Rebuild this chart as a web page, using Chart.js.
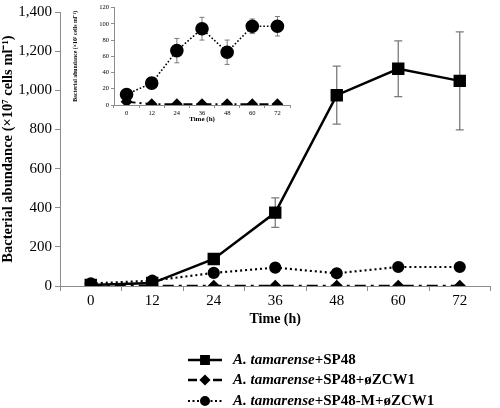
<!DOCTYPE html>
<html lang="en">
<head>
<meta charset="UTF-8">
<title>Bacterial abundance</title>
<script src="https://cdn.jsdelivr.net/npm/chart.js"></script>
<style>
  body { margin: 0; background: #fff; }
  #wrap { position: relative; width: 500px; height: 408px; }
  #mainChart { position: absolute; left: 0; top: 0; }
  #insetChart { position: absolute; left: 72px; top: 0; }
</style>
</head>
<body>
<div id="wrap">
  <canvas id="mainChart" width="500" height="408"></canvas>
  <canvas id="insetChart" width="228" height="125"></canvas>
</div>
<script>
// data
const hours = ['0', '12', '24', '36', '48', '60', '72'];
const sp48 = [5, 15, 138, 375, 975, 1110, 1048];
const sp48Err = [0, 0, 0, 75, 148, 142, 250];
const sp48Phage = [4, 1, 1, 1, 1, 1, 1];
const sp48mPhage = [13, 27, 67, 94, 65, 97, 97];
const sp48mPhageErr = [0, 0, 15, 14, 15, 9, 12];
const mainYTicks = [0, 200, 400, 600, 800, 1000, 1200, 1400];
const insetYTicks = [0, 20, 40, 60, 80, 100, 120];
const speciesName = 'A. tamarense';
const treatments = ['+SP48', '+SP48+øZCW1', '+SP48-M+øZCW1'];
const yTitle = 'Bacterial abundance (×10⁷ cells ml⁻¹)';
const xTitle = 'Time (h)';

const serif = "'Liberation Serif', 'Times New Roman', serif";
const axisGrey = '#8c8c8c';

// error bars drawn under the markers
const errorBars = {
  id: 'errorBars',
  beforeDatasetsDraw(chart) {
    const ctx = chart.ctx;
    const y = chart.scales.y;
    chart.data.datasets.forEach((ds, i) => {
      if (!ds.errors) return;
      const meta = chart.getDatasetMeta(i);
      ctx.save();
      ctx.strokeStyle = '#7a7a7a';
      ctx.lineWidth = ds.errWidth || 1.2;
      meta.data.forEach((pt, j) => {
        const e = ds.errors[j];
        if (!e) return;
        const v = ds.data[j];
        const top = y.getPixelForValue(v + e);
        const bot = y.getPixelForValue(v - e);
        const cap = ds.errCap || 4;
        ctx.beginPath();
        ctx.moveTo(pt.x, top); ctx.lineTo(pt.x, bot);
        ctx.moveTo(pt.x - cap, top); ctx.lineTo(pt.x + cap, top);
        ctx.moveTo(pt.x - cap, bot); ctx.lineTo(pt.x + cap, bot);
        ctx.stroke();
      });
      ctx.restore();
    });
  }
};

// legend under the main chart, species name in italics
const bottomLegend = {
  id: 'bottomLegend',
  afterDraw(chart) {
    const ctx = chart.ctx;
    const rowsY = [360, 380, 401];
    const styles = [
      { point: 'rect', r: 5.2, dash: 'solid', width: 2.5 },
      { point: 'rectRot', r: 3.8, dash: 'dash', width: 2.5 },
      { point: 'circle', r: 4, dash: 'dot', width: 2 }
    ];
    ctx.save();
    styles.forEach((s, i) => {
      const yy = rowsY[i];
      ctx.strokeStyle = '#000';
      ctx.fillStyle = '#000';
      ctx.lineWidth = s.width;
      ctx.beginPath();
      if (s.dash === 'solid') {
        ctx.moveTo(188, yy); ctx.lineTo(222, yy);
      } else if (s.dash === 'dash') {
        ctx.moveTo(188, yy); ctx.lineTo(197, yy);
        ctx.moveTo(213, yy); ctx.lineTo(222, yy);
      } else {
        ctx.setLineDash([2, 2.5]);
        ctx.moveTo(188, yy); ctx.lineTo(222, yy);
      }
      ctx.stroke();
      ctx.setLineDash([]);
      Chart.helpers.drawPoint(ctx, { pointStyle: s.point, radius: s.r, rotation: 0, borderWidth: 1 }, 205, yy);
      ctx.fill();

      ctx.textBaseline = 'middle';
      ctx.textAlign = 'left';
      ctx.font = 'italic bold 15px ' + serif;
      ctx.fillText(speciesName, 233, yy);
      const w = ctx.measureText(speciesName).width;
      ctx.font = 'bold 15px ' + serif;
      ctx.fillText(treatments[i], 233 + w, yy);
    });
    ctx.restore();
  }
};

new Chart(document.getElementById('mainChart'), {
  type: 'line',
  data: {
    labels: hours,
    datasets: [
      {
        label: speciesName + treatments[0],
        data: sp48,
        errors: sp48Err,
        errCap: 4,
        errWidth: 1.3,
        borderColor: '#000',
        backgroundColor: '#000',
        borderWidth: 2.5,
        pointStyle: 'rect',
        pointRadius: 7,
        tension: 0
      },
      {
        label: speciesName + treatments[1],
        data: sp48Phage,
        borderColor: '#000',
        backgroundColor: '#000',
        borderWidth: 2.2,
        borderDash: [11, 5, 3, 5],
        pointStyle: 'rectRot',
        pointRadius: 4.5,
        tension: 0
      },
      {
        label: speciesName + treatments[2],
        data: sp48mPhage,
        errors: sp48mPhageErr,
        borderColor: '#000',
        backgroundColor: '#000',
        borderWidth: 2.2,
        borderDash: [2, 3],
        pointStyle: 'circle',
        pointRadius: 5,
        tension: 0
      }
    ]
  },
  options: {
    responsive: false,
    animation: false,
    layout: { padding: { top: 10, right: 1, bottom: 78, left: 0 } },
    plugins: { legend: { display: false }, tooltip: { enabled: false } },
    scales: {
      x: {
        type: 'category',
        offset: true,
        afterFit: (scale) => { scale.height = 44; },
        grid: { display: true, drawOnChartArea: false, offset: true, tickLength: 5, color: axisGrey },
        border: { display: true, color: axisGrey, width: 1 },
        ticks: { color: '#000', padding: 1, font: { family: serif, size: 15 } },
        title: {
          display: true, text: xTitle, color: '#000',
          padding: { top: 0, bottom: 2 },
          font: { family: serif, size: 14, weight: 'bold' }
        }
      },
      y: {
        min: 0,
        max: 1400,
        afterFit: (scale) => { scale.width = 60; },
        afterBuildTicks: (scale) => { scale.ticks = mainYTicks.map(v => ({ value: v })); },
        grid: { display: true, drawOnChartArea: false, tickLength: 5, color: axisGrey },
        border: { display: true, color: axisGrey, width: 1 },
        ticks: {
          color: '#000', padding: 3,
          font: { family: serif, size: 15 },
          callback: (v) => Number(v).toLocaleString('en-US')
        },
        title: {
          display: true, text: yTitle, color: '#000',
          padding: { top: 0, bottom: 0 },
          font: { family: serif, size: 14.5, weight: 'bold' }
        }
      }
    }
  },
  plugins: [errorBars, bottomLegend]
});

// inset: zoom on the two low series
new Chart(document.getElementById('insetChart'), {
  type: 'line',
  data: {
    labels: hours,
    datasets: [
      {
        label: speciesName + treatments[1],
        data: sp48Phage,
        borderColor: '#000',
        backgroundColor: '#000',
        borderWidth: 2,
        borderDash: [9, 4, 2, 4],
        pointStyle: 'rectRot',
        pointRadius: 4.5,
        tension: 0
      },
      {
        label: speciesName + treatments[2],
        data: sp48mPhage,
        errors: sp48mPhageErr,
        errCap: 2.5,
        errWidth: 1,
        borderColor: '#000',
        backgroundColor: '#000',
        borderWidth: 1.6,
        borderDash: [1.6, 2],
        pointStyle: 'circle',
        pointRadius: 6,
        tension: 0
      }
    ]
  },
  options: {
    responsive: false,
    animation: false,
    layout: { padding: { top: 4, right: 10, bottom: 0, left: 0 } },
    plugins: { legend: { display: false }, tooltip: { enabled: false } },
    scales: {
      x: {
        type: 'category',
        offset: true,
        afterFit: (scale) => { scale.height = 20; },
        grid: { display: true, drawOnChartArea: false, offset: true, tickLength: 3, color: axisGrey },
        border: { display: true, color: axisGrey, width: 1 },
        ticks: { color: '#000', padding: 1, font: { family: serif, size: 6.5 } },
        title: {
          display: true, text: xTitle, color: '#000',
          padding: { top: 0, bottom: 2 },
          font: { family: serif, size: 7, weight: 'bold' }
        }
      },
      y: {
        min: 0,
        max: 120,
        afterFit: (scale) => { scale.width = 42; },
        afterBuildTicks: (scale) => { scale.ticks = insetYTicks.map(v => ({ value: v })); },
        grid: { display: true, drawOnChartArea: false, tickLength: 3, color: axisGrey },
        border: { display: true, color: axisGrey, width: 1 },
        ticks: { color: '#000', padding: 2, font: { family: serif, size: 6.5 } },
        title: {
          display: true, text: yTitle, color: '#000',
          padding: { top: 0, bottom: 0 },
          font: { family: serif, size: 5.8, weight: 'bold' }
        }
      }
    }
  },
  plugins: [errorBars]
});
</script>
</body>
</html>
